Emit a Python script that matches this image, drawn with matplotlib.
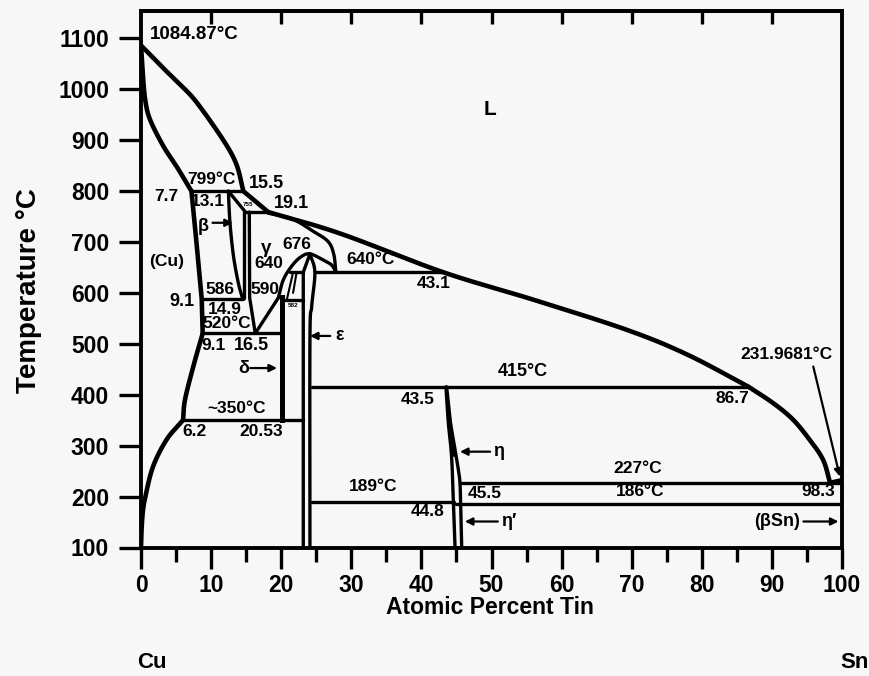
import matplotlib
matplotlib.use("Agg")
import matplotlib.pyplot as plt
import numpy as np

plt.rcParams['font.family'] = ['Liberation Sans', 'DejaVu Sans']
plt.rcParams['font.weight'] = 'bold'

# ---------------- data (atomic % Sn, temperature C) ----------------
x_ticks = [0, 10, 20, 30, 40, 50, 60, 70, 80, 90, 100]
y_ticks = [100, 200, 300, 400, 500, 600, 700, 800, 900, 1000, 1100]

liq_cu_x = [0, 3.2, 5.6, 7.95, 11.7, 13.6, 14.6]
liq_cu_t = [1084.87, 1040, 1008, 973, 900, 852, 799]

sol_cu_x = [0, 0.25, 0.6, 1.3, 3.2, 5.1, 7.2]
sol_cu_t = [1084.87, 1030, 978, 939, 887, 847, 799]

liq_a_x = [14.6, 18.15]
liq_a_t = [799, 758]
liq_b_x = [18.15, 28.4, 43.1, 56.0, 69.3, 78.0, 86.7]
liq_b_t = [758, 716, 640, 586, 527, 478, 415]
liq_c_x = [86.7, 90.2, 93.0, 95.4, 97.3, 98.3]
liq_c_t = [415, 383, 351, 311, 272, 227]
liq_d_x = [98.3, 100]
liq_d_t = [227, 231.97]

gam_sol_x = [18.15, 21.5, 24.6, 26.7, 27.5, 27.8]
gam_sol_t = [756, 745, 720, 700, 675, 640]

cu_hi_x = [7.2, 7.9, 8.66, 8.8]
cu_hi_t = [799, 700, 588, 520]
cu_mid_x = [8.8, 7.46, 6.28, 6.0]
cu_mid_t = [520, 455, 390, 350]
cu_lo_x = [6.0, 3.67, 1.75, 0.7, 0.3, 0.1, 0]
cu_lo_t = [350, 312, 260, 205, 175, 140, 100]

beta_left_x = [12.46, 12.7, 13.2, 13.9, 14.5]
beta_left_t = [799, 736, 671, 618, 588]

beta_diag_x = [12.46, 14.9]
beta_diag_t = [799, 758]

beta_right_x = [14.75, 14.75]
beta_right_t = [758, 590]

gam_left_x = [15.45, 15.5, 16.3]
gam_left_t = [758, 590, 520]

gam_delta_x = [16.3, 19.6]
gam_delta_t = [520, 590]
dome_x = [19.6, 20.3, 21.5, 22.8, 24.1, 26.0, 27.2, 27.8]
dome_t = [590, 625, 652, 670, 676, 664, 654, 640]

eps_left_x = [24.1, 23.15, 23.15]
eps_left_t = [676, 640, 100]

eps_right_x = [24.1, 24.8, 24.35, 24.1, 24.1]
eps_right_t = [676, 640, 573, 507, 100]

delta_x = [20.05, 20.05]
delta_t = [592, 350]

inner1_x = [21.7, 20.8]
inner1_t = [640, 586]
inner2_x = [22.2, 21.7]
inner2_t = [640, 600]

eta_left_x = [43.5, 43.85, 44.3, 44.55, 44.8]
eta_left_t = [415, 344, 279, 194, 100]
eta_right_x = [43.6, 44.1, 44.8, 45.3, 45.5, 45.6, 45.75]
eta_right_t = [415, 350, 292, 250, 227, 186, 100]

# horizontal invariant lines: (T, x_start, x_end)
iso_T = [799, 758, 640, 640, 588, 586, 520, 415, 350, 227, 189, 186]
iso_x0 = [7.2, 14.75, 21.3, 24.8, 8.66, 20.3, 8.8, 24.35, 6.0, 45.5, 24.35, 45.0]
iso_x1 = [14.6, 18.15, 23.15, 43.1, 14.5, 23.15, 20.05, 86.7, 23.15, 100, 44.6, 100]

# labels
lab_text = ["1084.87°C", "L", "799°C", "15.5", "7.7", "13.1", "755", "19.1", "(Cu)",
            "γ", "640", "676", "640°C", "43.1", "586", "590", "9.1", "14.9", "520°C",
            "582", "9.1", "16.5", "~350°C", "6.2", "20.53", "43.5", "189°C", "44.8",
            "415°C", "231.9681°C", "86.7", "227°C", "186°C", "45.5", "98.3"]
lab_x = [1.28, 49.8, 10.1, 17.9, 3.67, 9.6, 15.3, 21.5, 3.67,
         17.9, 18.2, 22.2, 32.7, 41.7, 11.3, 17.7, 5.8, 12.0, 12.2,
         21.7, 10.3, 15.8, 13.65, 7.7, 17.2, 39.4, 33.1, 40.9,
         54.5, 92.1, 84.3, 70.9, 71.2, 49.1, 96.6]
lab_t = [1106, 959, 821, 815, 788, 779, 772, 774, 661,
         687, 658, 694, 664, 617, 607, 607, 582, 566, 540,
         574, 497, 497, 373, 327, 327, 390, 219, 170,
         445, 478, 393, 255, 210, 206, 210]
lab_size = [13.5, 15, 12.5, 13, 12.5, 12.5, 4.5, 13, 12.5,
            13.5, 12.5, 12.5, 12.5, 12.5, 12.5, 12.5, 13, 12.5, 12.5,
            4.5, 12.5, 13, 12.5, 12.5, 12.5, 12.5, 12.5, 12.5,
            13, 12.5, 12.5, 12.5, 12.5, 12.5, 12.5]

# arrow labels
arr_text = ["β", "δ", "ε", "η", "η′", "(βSn)"]
arr_tx = [8.9, 14.6, 28.4, 51.0, 52.4, 90.7]
arr_tt = [730, 452, 515, 288, 151, 151]
arr_hx = [13.1, 19.4, 24.1, 45.5, 46.2, 99.5, 99.7]
arr_ht = [737, 452, 515, 288, 151, 151, 239]
arr_sx = [10.2, 15.6, 27.0, 49.8, 50.9, 94.5, 95.9]
arr_st = [737, 452, 515, 288, 151, 151, 455]


def smooth(xs, ts, n=24):
    """Catmull-Rom curve through the given points (display-scaled)."""
    p = np.column_stack([np.asarray(xs, float) * 7.01, np.asarray(ts, float) * 0.5095])
    if len(p) < 3:
        return xs, ts
    p = np.vstack([2 * p[0] - p[1], p, 2 * p[-1] - p[-2]])
    out = []
    for i in range(1, len(p) - 2):
        p0, p1, p2, p3 = p[i - 1], p[i], p[i + 1], p[i + 2]
        for s in np.linspace(0, 1, n, endpoint=False):
            s2, s3 = s * s, s * s * s
            out.append(0.5 * ((2 * p1) + (-p0 + p2) * s + (2 * p0 - 5 * p1 + 4 * p2 - p3) * s2
                              + (-p0 + 3 * p1 - 3 * p2 + p3) * s3))
    out.append(p[-2])
    out = np.array(out)
    return out[:, 0] / 7.01, out[:, 1] / 0.5095


# ---------------- figure ----------------
W, H = 869, 676
fig = plt.figure(figsize=(W / 100, H / 100), dpi=100)
fig.patch.set_facecolor('#f7f7f7')
ax = fig.add_axes([141 / W, 1 - 547.5 / H, (842 - 141) / W, (547.5 - 10.7) / H])
ax.set_facecolor('#f7f7f7')
ax.set_xlim(0, 100)
ax.set_ylim(100, 1153)

thick = dict(color='black', lw=3.3, solid_capstyle='round', solid_joinstyle='round')
norm = dict(color='black', lw=2.4, solid_capstyle='round', solid_joinstyle='round')

for xs, ts in [(liq_cu_x, liq_cu_t), (sol_cu_x, sol_cu_t), (liq_b_x, liq_b_t),
               (liq_c_x, liq_c_t), (cu_lo_x, cu_lo_t), (cu_mid_x, cu_mid_t)]:
    ax.plot(*smooth(xs, ts), **thick)
for xs, ts in [(liq_a_x, liq_a_t), (liq_d_x, liq_d_t), (cu_hi_x, cu_hi_t)]:
    ax.plot(xs, ts, **thick)
for xs, ts in [(gam_sol_x, gam_sol_t), (beta_left_x, beta_left_t), (dome_x, dome_t)]:
    ax.plot(*smooth(xs, ts), **norm)
for xs, ts in [(beta_diag_x, beta_diag_t), (beta_right_x, beta_right_t),
               (gam_left_x, gam_left_t), (gam_delta_x, gam_delta_t),
               (eps_left_x, eps_left_t)]:
    ax.plot(xs, ts, **norm)
ax.plot(*smooth(eps_right_x, eps_right_t), **norm)
ax.plot(delta_x, delta_t, color='black', lw=3.6)
ax.plot(inner1_x, inner1_t, color='black', lw=1.5)
ax.plot(inner2_x, inner2_t, color='black', lw=1.5)
ax.plot(*smooth(eta_left_x, eta_left_t), **norm)
ax.plot(*smooth(eta_right_x, eta_right_t), **norm)
ax.fill_betweenx(eta_left_t[:3], eta_left_x[:3],
                 np.interp(eta_left_t[:3], eta_right_t[::-1], eta_right_x[::-1]),
                 color='black', lw=0)

for T, a, b in zip(iso_T, iso_x0, iso_x1):
    ax.plot([a, b], [T, T], **norm)

for s, x, t, fs in zip(lab_text, lab_x, lab_t, lab_size):
    ha = 'left' if s == "1084.87°C" else 'center'
    ax.text(x, t, s, ha=ha, va='center', fontsize=fs, fontweight='bold')

for hx, ht, sx, st in zip(arr_hx, arr_ht, arr_sx, arr_st):
    ax.annotate('', xy=(hx, ht), xytext=(sx, st),
                arrowprops=dict(arrowstyle='-|>', color='black', lw=1.6,
                                mutation_scale=11, shrinkA=0, shrinkB=0))
for s, x, t in zip(arr_text, arr_tx, arr_tt):
    ax.text(x, t, s, ha='center', va='center', fontsize=13, fontweight='bold')

for sp in ax.spines.values():
    sp.set_linewidth(2.8)

ax.set_xticks(x_ticks)
ax.set_xticks([5, 15, 25, 35, 45, 55, 65, 75, 85, 95], minor=True)
ax.set_yticks(y_ticks)
ax.tick_params(axis='both', which='major', direction='out', width=2.4, labelsize=16.5)
ax.tick_params(axis='y', which='major', length=16, pad=7)
ax.tick_params(axis='x', which='major', length=15, pad=4)
ax.tick_params(axis='x', which='minor', direction='out', length=10, width=2.4)
for lbl in ax.get_xticklabels() + ax.get_yticklabels():
    lbl.set_fontweight('bold')

sec = ax.secondary_xaxis('top')
sec.set_xticks([10, 20, 30, 40, 50, 60, 70, 80, 90])
sec.tick_params(direction='in', length=9, width=2.4, labeltop=False)
sec.spines['top'].set_linewidth(2.8)

fig.text(29 / W, 1 - 291 / H, 'Temperature °C', rotation=90, ha='center', va='center',
         fontsize=20, fontweight='bold')
fig.text(490 / W, 1 - 608 / H, 'Atomic Percent Tin', ha='center', va='center',
         fontsize=16.5, fontweight='bold')
fig.text(152 / W, 1 - 662 / H, 'Cu', ha='center', va='center', fontsize=16, fontweight='bold')
fig.text(855 / W, 1 - 662 / H, 'Sn', ha='center', va='center', fontsize=16, fontweight='bold')

fig.savefig('out.png', dpi=100, facecolor=fig.get_facecolor())
